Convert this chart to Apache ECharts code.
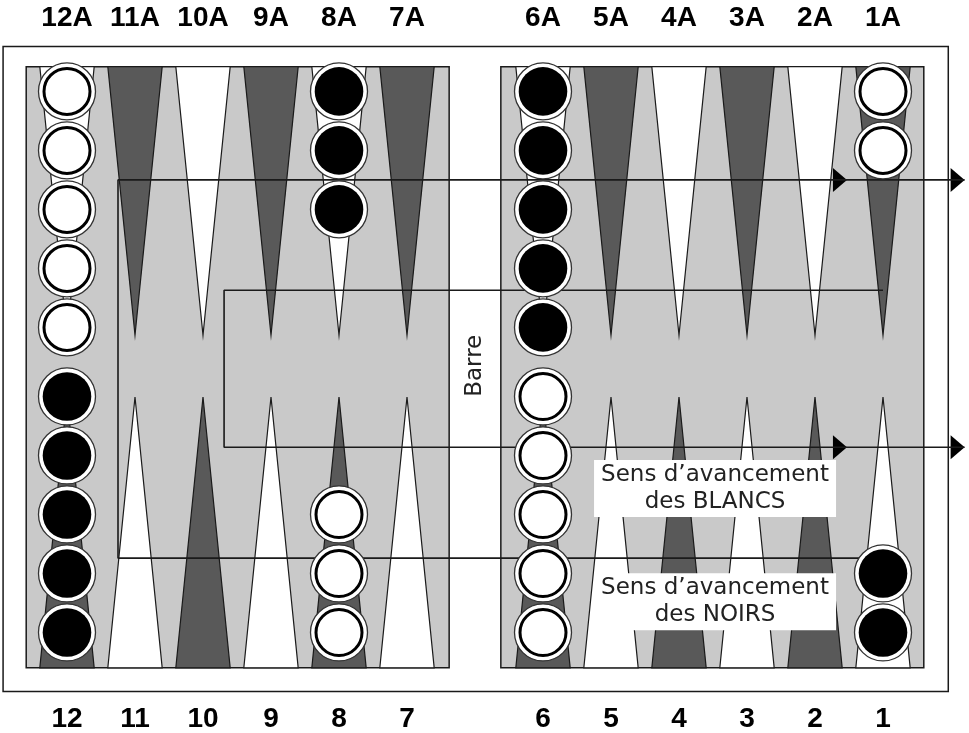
<!DOCTYPE html>
<html><head><meta charset="utf-8">
<script src="https://cdn.jsdelivr.net/npm/echarts@6/dist/echarts.min.js"></script>
<style>html,body{margin:0;padding:0;background:#fff}#c{width:969px;height:733px}</style>
</head><body><div id="c"></div>
<script>
// ---------- data ----------
const topLabels = ['12A','11A','10A','9A','8A','7A','6A','5A','4A','3A','2A','1A'];
const bottomLabels = ['12','11','10','9','8','7','6','5','4','3','2','1'];
const topPointShades = ['light','dark','light','dark','light','dark','light','dark','light','dark','light','dark'];
const bottomPointShades = ['dark','light','dark','light','dark','light','dark','light','dark','light','dark','light'];
const checkerPoints = ['12A','8A','6A','1A','12','8','6','1'];
const checkerColors = ['white','black','black','white','black','white','white','black'];
const checkerCounts = [5,3,5,2,5,3,5,2];
const barLabel = 'Barre';
const directionLabels = ['Sens d\u2019avancement\ndes BLANCS', 'Sens d\u2019avancement\ndes NOIRS'];
// paths in board units: x = column (0 = 12A/12 ... 12 = 1A/1, bar = 6), y = checker rows from centre line
const blancsPath = [[12, 1.25], [2.31, 1.25], [2.31, -1.41], [13.2, -1.41]];
const noirsPath = [[12, -3.29], [0.75, -3.29], [0.75, 3.12], [13.2, 3.12]];
const arrowHeadsX = [11.47, 13.2];
const directionBoxes = [[9.53, -2.11], [9.53, -4.03]];

// ---------- layout ----------
const COL = 68, ROW = 59, X0 = 67, Y0 = 364, W = 969, H = 733;
const BOARD = { fx0: -0.94, fx1: 12.96, fy0: -5.55, fy1: 5.38,
  lx0: -0.6, lx1: 5.62, rx0: 6.38, rx1: 12.6, by0: -5.15, by1: 5.04,
  triHalf: 0.4, topTip: 0.49, botTip: -0.56, topFirst: 4.62, botFirst: -4.55,
  topLabelY: 5.864, botLabelY: -6.025 };
const LIGHT = '#c9c9c9', DARK = '#595959', INK = '#1a1a1a';
const slotOf = i => (i < 6 ? i : i + 1);

// triangles
const triData = [];
topPointShades.forEach((s, i) => triData.push([slotOf(i), 1, s === 'dark' ? 1 : 0]));
bottomPointShades.forEach((s, i) => triData.push([slotOf(i), 0, s === 'dark' ? 1 : 0]));

// checkers
const checkerData = [];
checkerPoints.forEach((p, j) => {
  let idx = topLabels.indexOf(p), top = true;
  if (idx < 0) { idx = bottomLabels.indexOf(p); top = false; }
  for (let k = 0; k < checkerCounts[j]; k++) {
    const v = top ? BOARD.topFirst - k : BOARD.botFirst + k;
    checkerData.push([slotOf(idx), v, checkerColors[j] === 'black' ? 1 : 0]);
  }
});

// labels
const labelData = [];
topLabels.forEach((t, i) => labelData.push({ value: [slotOf(i), BOARD.topLabelY], name: t }));
bottomLabels.forEach((t, i) => labelData.push({ value: [slotOf(i), BOARD.botLabelY], name: t }));

const arrowData = [];
[blancsPath, noirsPath].forEach(p => {
  const y = p[p.length - 1][1];
  arrowHeadsX.forEach(x => arrowData.push([x, y]));
});

const chart = echarts.init(document.getElementById('c'), null, { renderer: 'canvas' });
const lineStyle = { color: INK, width: 1.6 };
chart.setOption({
  animation: false,
  grid: { left: 0, right: 0, top: 0, bottom: 0 },
  xAxis: { type: 'value', min: -X0 / COL, max: (W - X0) / COL, show: false },
  yAxis: { type: 'value', min: -(H - Y0) / ROW, max: Y0 / ROW, show: false },
  series: [
    { type: 'custom', z: 1, silent: true, data: [[0, 0]],
      renderItem: (params, api) => {
        const rect = (x0, y0, x1, y1, fill) => {
          const a = api.coord([x0, y1]), b = api.coord([x1, y0]);
          return { type: 'rect', shape: { x: a[0], y: a[1], width: b[0] - a[0], height: b[1] - a[1] },
            style: { fill, stroke: INK, lineWidth: 1.5 } };
        };
        return { type: 'group', children: [
          rect(BOARD.fx0, BOARD.fy0, BOARD.fx1, BOARD.fy1, '#fff'),
          rect(BOARD.lx0, BOARD.by0, BOARD.lx1, BOARD.by1, LIGHT),
          rect(BOARD.rx0, BOARD.by0, BOARD.rx1, BOARD.by1, LIGHT)
        ] };
      } },
    { type: 'custom', z: 2, silent: true, data: triData,
      renderItem: (params, api) => {
        const x = api.value(0), top = api.value(1) === 1, dark = api.value(2) === 1;
        const base = top ? BOARD.by1 : BOARD.by0, tip = top ? BOARD.topTip : BOARD.botTip;
        const pts = [api.coord([x - BOARD.triHalf, base]), api.coord([x + BOARD.triHalf, base]), api.coord([x, tip])];
        return { type: 'polygon', shape: { points: pts },
          style: { fill: dark ? DARK : '#fff', stroke: INK, lineWidth: 1.2 } };
      } },
    { type: 'line', z: 3, silent: true, data: blancsPath, showSymbol: false, symbol: 'none', lineStyle, clip: false },
    { type: 'line', z: 3, silent: true, data: noirsPath, showSymbol: false, symbol: 'none', lineStyle, clip: false },
    { type: 'custom', z: 3, silent: true, data: arrowData,
      renderItem: (params, api) => {
        const c = api.coord([api.value(0), api.value(1)]);
        return { type: 'polygon', shape: { points: [[c[0], c[1]], [c[0] - 14, c[1] - 12], [c[0] - 14, c[1] + 12]] },
          style: { fill: '#000' } };
      } },
    { type: 'custom', z: 4, silent: true, data: checkerData,
      renderItem: (params, api) => {
        const c = api.coord([api.value(0), api.value(1)]);
        const black = api.value(2) === 1;
        return { type: 'group', children: [
          { type: 'circle', shape: { cx: c[0], cy: c[1], r: 28.5 }, style: { fill: '#fff', stroke: '#333', lineWidth: 1.3 } },
          black
            ? { type: 'circle', shape: { cx: c[0], cy: c[1], r: 24.3 }, style: { fill: '#000' } }
            : { type: 'circle', shape: { cx: c[0], cy: c[1], r: 23 }, style: { fill: '#fff', stroke: '#000', lineWidth: 3 } }
        ] };
      } },
    { type: 'custom', z: 5, silent: true, data: labelData,
      renderItem: (params, api) => {
        const c = api.coord([api.value(0), api.value(1)]);
        return { type: 'text', x: c[0], y: c[1],
          style: { text: labelData[params.dataIndex].name, font: 'bold 28px "Liberation Sans", Arial, sans-serif',
            fill: '#000', align: 'center', verticalAlign: 'middle' } };
      } },
    { type: 'custom', z: 5, silent: true, data: [[6, -0.03]],
      renderItem: (params, api) => {
        const c = api.coord([api.value(0), api.value(1)]);
        return { type: 'text', x: c[0], y: c[1], rotation: Math.PI / 2,
          style: { text: barLabel, font: '23px "DejaVu Sans", sans-serif', fill: '#222', align: 'center', verticalAlign: 'middle' } };
      } },
    { type: 'custom', z: 6, silent: true, data: directionBoxes,
      renderItem: (params, api) => {
        const c = api.coord([api.value(0), api.value(1)]);
        return { type: 'group', children: [
          { type: 'rect', shape: { x: c[0] - 121, y: c[1] - 28.5, width: 242, height: 57 }, style: { fill: '#fff' } },
          { type: 'text', x: c[0], y: c[1],
            style: { text: directionLabels[params.dataIndex], font: '23px "DejaVu Sans", sans-serif', lineHeight: 27,
              fill: '#222', align: 'center', verticalAlign: 'middle' } }
        ] };
      } }
  ]
});
</script></body></html>
